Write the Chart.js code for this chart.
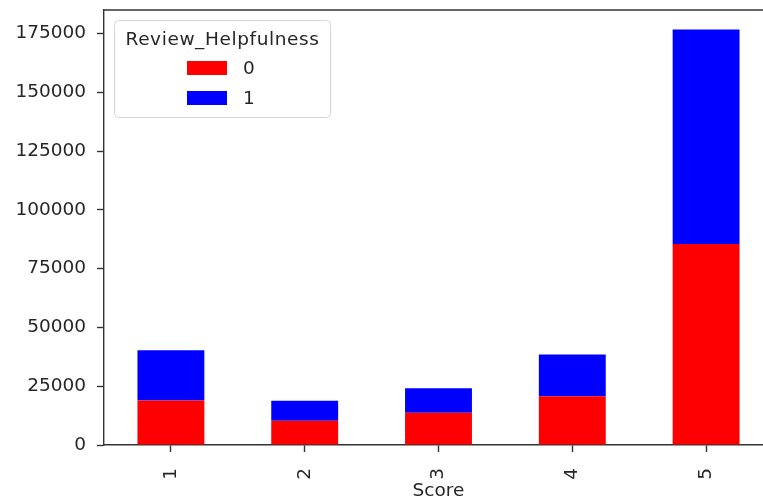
<!DOCTYPE html>
<html>
<head>
<meta charset="utf-8">
<script src="https://cdn.jsdelivr.net/npm/chart.js@4"></script>
<style>
  html, body { margin: 0; padding: 0; background: #fff; overflow: hidden; }
  .wrap { width: 790px; height: 500px; }
</style>
</head>
<body>
<div class="wrap"><canvas id="myChart" width="790" height="500"></canvas></div>
<script>
const scores = ['1', '2', '3', '4', '5'];
const notHelpful = [18900, 10350, 13750, 20750, 85450];
const helpful = [21400, 8500, 10400, 17700, 91250];
const seriesNames = ['0', '1'];
const legendTitle = 'Review_Helpfulness';
const yTicks = [0, 25000, 50000, 75000, 100000, 125000, 150000, 175000];

const font = 'DejaVu Sans';
const fontSize = 18.5;
const textColor = '#262626';
const spine = '#333';

// frame + legend box like matplotlib
const boxPlugin = {
  id: 'box',
  afterDraw(chart) {
    const c = chart.ctx;
    const a = chart.chartArea;
    c.save();
    c.strokeStyle = spine;
    c.lineWidth = 1.4;
    c.beginPath();
    c.moveTo(a.left, a.top);
    c.lineTo(a.right, a.top);
    c.lineTo(a.right, a.bottom);
    c.stroke();

    // legend
    const x = 114, y = 20, w = 216, h = 97;
    c.fillStyle = 'rgba(255,255,255,0.8)';
    c.strokeStyle = '#d6d6d6';
    c.lineWidth = 1;
    c.beginPath();
    c.roundRect(x + 0.5, y + 0.5, w, h, 4);
    c.fill();
    c.stroke();

    c.fillStyle = textColor;
    c.font = fontSize + 'px "' + font + '"';
    c.textAlign = 'center';
    c.textBaseline = 'middle';
    c.letterSpacing = '0.6px';
    c.fillText(legendTitle, x + w / 2 + 0.5, 40);
    c.letterSpacing = '0px';

    chart.data.datasets.forEach(function(ds, i) {
      const cy = 68 + i * 30;
      c.fillStyle = ds.backgroundColor;
      c.fillRect(187, cy - 7, 40, 14);
      c.fillStyle = textColor;
      c.textAlign = 'left';
      c.fillText(ds.label, 243, cy + 1);
    });
    c.restore();
  }
};

new Chart(document.getElementById('myChart'), {
  type: 'bar',
  data: {
    labels: scores,
    datasets: [
      { label: seriesNames[0], data: notHelpful, backgroundColor: '#ff0000', barPercentage: 0.5, categoryPercentage: 1 },
      { label: seriesNames[1], data: helpful, backgroundColor: '#0000ff', barPercentage: 0.5, categoryPercentage: 1 }
    ]
  },
  options: {
    responsive: false,
    animation: false,
    layout: { padding: { top: 10, right: 17, left: 0, bottom: 0 } },
    plugins: {
      legend: { display: false },
      title: { display: false },
      tooltip: { enabled: false }
    },
    scales: {
      x: {
        stacked: true,
        grid: { drawOnChartArea: false, offset: false, tickLength: 7, tickColor: spine, tickWidth: 1.4 },
        border: { color: spine, width: 1.4 },
        ticks: {
          color: textColor, font: { family: font, size: fontSize },
          minRotation: 90, maxRotation: 90, padding: 16
        },
        title: {
          display: true, text: 'Score', color: textColor,
          font: { family: font, size: fontSize }, padding: { top: 2, bottom: -2 }
        },
        afterFit(scale) {
          scale.height = 55;
          scale.paddingLeft = 0;
          scale.paddingRight = 0;
        }
      },
      y: {
        stacked: true,
        min: 0,
        max: 185000,
        grid: { drawOnChartArea: false, tickLength: 7, tickColor: spine, tickWidth: 1.4 },
        border: { color: spine, width: 1.4 },
        ticks: {
          color: textColor, font: { family: font, size: fontSize },
          padding: 11,
          callback: function(v) { return String(v); }
        },
        afterBuildTicks(scale) {
          scale.ticks = yTicks.map(function(v) { return { value: v }; });
        },
        afterFit(scale) {
          scale.width = 104;
          scale.paddingTop = 0;
          scale.paddingBottom = 0;
        }
      }
    }
  },
  plugins: [boxPlugin]
});
</script>
</body>
</html>
